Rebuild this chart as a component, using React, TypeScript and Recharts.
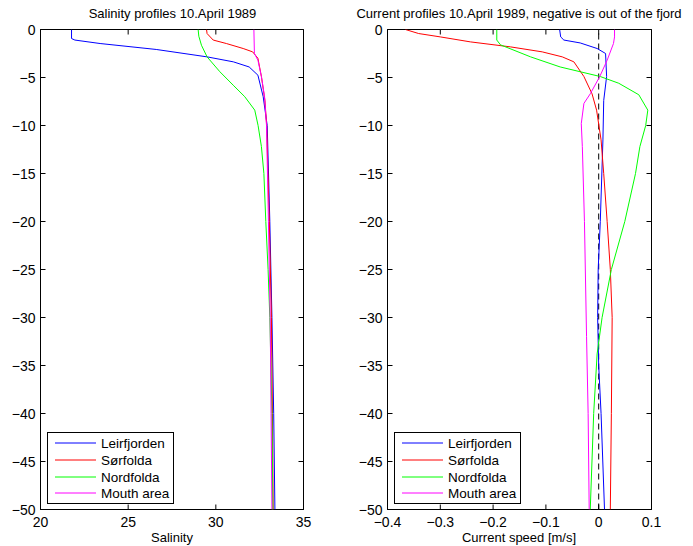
import React from 'react';
import { ScatterChart, Scatter, XAxis, YAxis, ReferenceLine, ReferenceArea } from 'recharts';

// depth ticks shared by both panels
const depthTicks = [0, -5, -10, -15, -20, -25, -30, -35, -40, -45, -50];
const salTicks = [20, 25, 30, 35];
const curTicks = [-0.4, -0.3, -0.2, -0.1, 0, 0.1];

const names = ['Leirfjorden', 'Sørfolda', 'Nordfolda', 'Mouth area'];
const colors = ['#0000ff', '#ff0000', '#00ff00', '#ff00ff'];

// salinity profiles
const salLeirDepth = [0, -0.94, -1.1, -1.46, -2.08, -2.85, -3.37, -3.9, -4.76, -7, -10, -20, -30, -40, -50];
const salLeir = [21.77, 21.77, 21.96, 23.4, 26.6, 29.5, 31.0, 31.9, 32.4, 32.7, 32.93, 33.08, 33.2, 33.3, 33.37];
const salSorDepth = [0, -0.42, -1.1, -1.46, -1.98, -2.33, -3.0, -4.9, -7.4, -10, -20, -30, -40, -50];
const salSor = [29.47, 29.5, 29.85, 30.6, 31.56, 32.1, 32.4, 32.6, 32.8, 32.9, 33.05, 33.17, 33.23, 33.27];
const salNordDepth = [0, -0.7, -1.64, -2.85, -4.4, -5.8, -7.0, -8.4, -10, -12.2, -15, -20, -25, -30, -40, -50];
const salNord = [28.99, 29.03, 29.18, 29.5, 30.23, 30.99, 31.65, 32.22, 32.41, 32.6, 32.74, 32.85, 32.98, 33.08, 33.2, 33.25];
const salMouthDepth = [0, -2.5, -3.2, -4.9, -7, -10, -20, -30, -40, -50];
const salMouth = [32.17, 32.2, 32.4, 32.6, 32.78, 32.89, 33.0, 33.1, 33.15, 33.2];

// current profiles
const curLeirDepth = [0, -0.77, -1.1, -1.4, -1.98, -2.5, -4.9, -7.4, -11.5, -20, -25, -30, -35, -40, -50];
const curLeir = [-0.074, -0.072, -0.066, -0.035, -0.003, 0.013, 0.015, 0.0095, 0.008, 0.003, -0.001, -0.002, 0, 0.0045, 0.011];
const curSorDepth = [0, -0.42, -0.77, -1.29, -1.81, -2.33, -2.85, -3.37, -4.9, -6.7, -8.4, -11.5, -15, -20, -25, -30, -40, -50];
const curSor = [-0.366, -0.341, -0.3, -0.243, -0.167, -0.107, -0.069, -0.047, -0.028, -0.0126, -0.004, 0.0045, 0.0095, 0.016, 0.022, 0.0255, 0.024, 0.022];
const curNordDepth = [0, -1.1, -1.6, -2.85, -3.9, -4.4, -4.9, -5.6, -6.8, -8.4, -10, -12.2, -15, -20, -25, -30, -33.8, -40, -50];
const curNord = [-0.193, -0.193, -0.186, -0.129, -0.073, -0.035, 0.003, 0.038, 0.076, 0.093, 0.089, 0.078, 0.0697, 0.0494, 0.024, 0.0064, -0.003, -0.0095, -0.016];
const curMouthDepth = [0, -0.77, -1.46, -3.2, -4.9, -6.7, -7.7, -9.8, -12.2, -20, -32, -40, -50];
const curMouth = [0.03, 0.03, 0.028, 0.016, 0.002, -0.016, -0.028, -0.033, -0.031, -0.027, -0.023, -0.02, -0.018];

const toPoints = (xs: number[], ys: number[]) => xs.map((x, i) => ({ x, y: ys[i] }));

const salSeries = [
  toPoints(salLeir, salLeirDepth),
  toPoints(salSor, salSorDepth),
  toPoints(salNord, salNordDepth),
  toPoints(salMouth, salMouthDepth),
];
const curSeries = [
  toPoints(curLeir, curLeirDepth),
  toPoints(curSor, curSorDepth),
  toPoints(curNord, curNordDepth),
  toPoints(curMouth, curMouthDepth),
];

const FONT = '"Liberation Sans", Arial, Helvetica, sans-serif';
const fmt = (v: number) => String(v).replace('-', '\u2212');

// half pixel offsets keep the 1px box lines crisp
const CHART_H = 546;
const MARGIN_TOP = 29.5;
const X_AXIS_H = 36.5;
const PLOT_H = CHART_H - MARGIN_TOP - X_AXIS_H;

// matlab style ticks: label outside, short marks inside the box on both sides
const makeBottomTick = () => (p: any) => (
  <g>
    <line x1={p.x} y1={p.y} x2={p.x} y2={p.y - 5} stroke="#000" />
    <line x1={p.x} y1={p.y - PLOT_H} x2={p.x} y2={p.y - PLOT_H + 5} stroke="#000" />
    <text x={p.x} y={p.y + 17} textAnchor="middle" fontSize={14} fill="#000" fontFamily={FONT}>
      {fmt(p.payload.value)}
    </text>
  </g>
);
const makeLeftTick = (plotW: number) => (p: any) => {
  const x0 = p.x + 5;
  return (
    <g>
      <line x1={x0} y1={p.y} x2={x0 + 5} y2={p.y} stroke="#000" />
      <line x1={x0 + plotW} y1={p.y} x2={x0 + plotW - 5} y2={p.y} stroke="#000" />
      <text x={p.x} y={p.y + 5} textAnchor="end" fontSize={14} fill="#000" fontFamily={FONT}>
        {fmt(p.payload.value)}
      </text>
    </g>
  );
};
const NoShape = () => <g />;

// row centres, relative to the legend box
const legendRows = [11, 28, 45, 61];

const Legend = ({ left }: { left: number }) => (
  <svg width={127} height={72} style={{ position: 'absolute', left, top: 432 }}>
    <rect x={0.5} y={0.5} width={126} height={71} fill="#fff" stroke="#000" />
    {names.map((n, i) => (
      <g key={n}>
        <line x1={8} x2={49} y1={legendRows[i]} y2={legendRows[i]} stroke={colors[i]} strokeWidth={1} />
        <text x={54} y={legendRows[i] + 5} fontSize={13.5} fill="#000" fontFamily={FONT}>
          {n}
        </text>
      </g>
    ))}
  </svg>
);

const Panel = ({
  left,
  width,
  yWidth,
  marginRight,
  xDomain,
  xTicks,
  series,
  zeroLine,
}: {
  left: number;
  width: number;
  yWidth: number;
  marginRight: number;
  xDomain: [number, number];
  xTicks: number[];
  series: { x: number; y: number }[][];
  zeroLine?: boolean;
}) => {
  const plotW = width - 0.5 - yWidth - marginRight;
  return (
    <div style={{ position: 'absolute', left, top: 0 }}>
      <ScatterChart
        width={width}
        height={CHART_H}
        margin={{ top: MARGIN_TOP, right: marginRight, bottom: 0, left: 0.5 }}
      >
        <XAxis
          type="number"
          dataKey="x"
          domain={xDomain}
          ticks={xTicks}
          allowDataOverflow
          height={X_AXIS_H}
          tickSize={0}
          tickMargin={0}
          tickLine={false}
          axisLine={{ stroke: '#000' }}
          tick={makeBottomTick()}
          interval={0}
        />
        <YAxis
          type="number"
          dataKey="y"
          domain={[-50, 0]}
          ticks={depthTicks}
          allowDataOverflow
          width={yWidth}
          tickSize={0}
          tickMargin={5}
          tickLine={false}
          axisLine={{ stroke: '#000' }}
          tick={makeLeftTick(plotW)}
          interval={0}
        />
        {/* top and right edges of the box */}
        <ReferenceArea x1={xDomain[0]} x2={xDomain[1]} y1={-50} y2={0} fill="none" stroke="#000" strokeWidth={1} />
        {zeroLine && <ReferenceLine x={0} stroke="#000" strokeDasharray="6 4" />}
        {series.map((pts, i) => (
          <Scatter
            key={names[i]}
            name={names[i]}
            data={pts}
            fill={colors[i]}
            line={{ stroke: colors[i], strokeWidth: 1 }}
            lineJointType="linear"
            shape={NoShape}
            isAnimationActive={false}
          />
        ))}
      </ScatterChart>
    </div>
  );
};

const textStyle: React.CSSProperties = {
  position: 'absolute',
  fontFamily: FONT,
  fontSize: 13,
  lineHeight: '15px',
  color: '#000',
  textAlign: 'center',
  whiteSpace: 'nowrap',
};

export default function App() {
  return (
    <div style={{ position: 'absolute', left: 0, top: 0, width: 693, height: 546, background: '#fff', overflow: 'hidden' }}>
      <Panel left={0} width={340} yWidth={40} marginRight={36.5} xDomain={[20, 35]} xTicks={salTicks} series={salSeries} />
      <Panel left={340} width={353} yWidth={47} marginRight={41.5} xDomain={[-0.4, 0.1]} xTicks={curTicks} series={curSeries} zeroLine />
      <div style={{ ...textStyle, left: 0, width: 345, top: 5.5 }}>Salinity profiles 10.April 1989</div>
      <div style={{ ...textStyle, left: 319, width: 400, top: 5.5 }}>
        Current profiles 10.April 1989, negative is out of the fjord
      </div>
      <div style={{ ...textStyle, left: 72, width: 200, top: 532, lineHeight: '11px' }}>Salinity</div>
      <div style={{ ...textStyle, left: 419, width: 200, top: 532, lineHeight: '11px' }}>Current speed [m/s]</div>
      <Legend left={47} />
      <Legend left={394} />
    </div>
  );
}
